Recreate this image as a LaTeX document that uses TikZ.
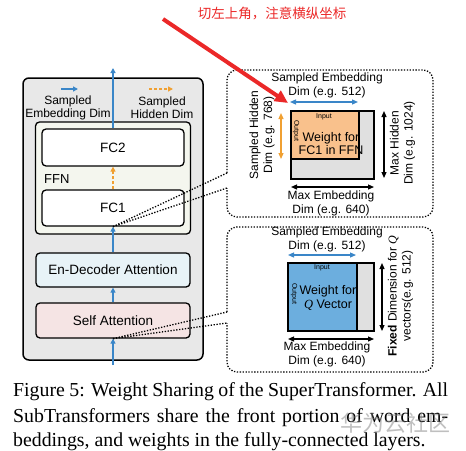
\documentclass[tikz,border=0pt]{standalone}
\usepackage{fontspec}
\setmainfont{Liberation Sans}
\newfontfamily\capfont{Liberation Serif}
\newfontfamily\cjk{Noto Sans CJK SC}
\usetikzlibrary{arrows.meta}
\newcommand\myfs[2]{\fontsize{#1}{#2}\selectfont}
\definecolor{myblue}{RGB}{58,134,200}
\definecolor{myorange}{RGB}{240,160,50}
\definecolor{outergray}{RGB}{232,232,232}
\definecolor{ffnfill}{RGB}{244,246,238}
\definecolor{edfill}{RGB}{232,243,247}
\definecolor{safill}{RGB}{245,228,228}
\definecolor{panelgray}{RGB}{224,224,224}
\definecolor{wforange}{RGB}{249,193,140}
\definecolor{wqblue}{RGB}{108,174,222}
\definecolor{annred}{RGB}{235,40,40}
\tikzset{
 blk/.style={draw=black, line width=1.3pt, rounded corners=4pt, inner sep=0pt},
 uparr/.style={-{Triangle[length=5pt,width=5pt]}, draw=myblue, line width=1.4pt},
 hidarr/.style={-{Triangle[length=5pt,width=5pt]}, draw=myorange, line width=1.4pt, dash pattern=on 3pt off 2pt},
 dots/.style={line width=1.3pt, dash pattern=on 1.3pt off 1.6pt},
 dbl/.style={{Triangle[length=6pt,width=5pt]}-{Triangle[length=6pt,width=5pt]}, line width=1.2pt},
 lbl/.style={align=center, inner sep=0pt, font=\myfs{12}{14}},
 rct/.style={draw=black, line width=1.2pt, inner sep=0pt},
 tiny/.style={inner sep=0pt, font=\myfs{7}{8}},
 capt/.style={anchor=west, inner sep=0pt, font=\capfont\myfs{19.8}{22}},
}
\begin{document}
\begin{tikzpicture}[x=1pt,y=-1pt]
\useasboundingbox (0,0) rectangle (466,450);
% left panel
\node[blk, fill=outergray, minimum width=180pt, minimum height=282pt, rounded corners=6pt, line width=1.5pt] (outer) at (113,219) {};
\node[blk, fill=ffnfill, minimum width=155pt, minimum height=112pt] (ffn) at (113,178) {};
\node[blk, fill=white, minimum width=142pt, minimum height=37pt, font=\myfs{13.5}{14}] (fc2) at (113,147.5) {FC2};
\node[blk, fill=white, minimum width=142pt, minimum height=36pt, font=\myfs{13.5}{14}] (fc1) at (113,208) {FC1};
\node[blk, fill=edfill, minimum width=154pt, minimum height=34pt, font=\myfs{13.5}{14}] (ed) at (113,270) {En-Decoder Attention};
\node[blk, fill=safill, minimum width=154pt, minimum height=35pt, font=\myfs{13.5}{14}] (sa) at (113,320.5) {Self Attention};
\node[anchor=west, inner sep=0pt, font=\myfs{13}{14}] (ffnl) at (44,179) {FFN};
\coordinate (in) at (113,365);
\coordinate (out) at (113,68);
\draw[uparr] (in) -- (sa.south);
\draw[uparr] (sa.north) -- (ed.south);
\draw[uparr] (ed.north) -- (fc1.south);
\draw[hidarr] (fc1.north) -- (fc2.south);
\draw[uparr] (fc2.north) -- (out);
% legend
\coordinate (lb1) at (61,89); \coordinate (lb2) at (78,89);
\coordinate (lo1) at (149,89); \coordinate (lo2) at (173,89);
\draw[uparr] (lb1) -- (lb2);
\draw[hidarr] (lo1) -- (lo2);
\node[lbl, font=\myfs{12}{13}] (legE) at (68,107.5) {Sampled\\Embedding Dim};
\node[lbl, font=\myfs{12}{13}] (legH) at (162,107.5) {Sampled\\Hidden Dim};
% upper panel
\coordinate (p1a) at (227,173); \coordinate (p1b) at (227,188);
\draw[dots, rounded corners=10pt] (p1a) -- (227,70) -- (433,70) -- (433,217) -- (227,217) -- (p1b);
\draw[dots] (fc1.south) -- (p1a);
\draw[dots] (fc1.south) -- (p1b);
\node[lbl] (se1) at (327,85) {Sampled Embedding\\Dim (e.g. 512)};
\coordinate (b1l) at (290,102); \coordinate (b1r) at (358,102);
\draw[dbl, myblue] (b1l) -- (b1r);
\node[rct, fill=panelgray, minimum width=83pt, minimum height=68pt] (g1) at (332.5,145) {};
\node[rct, fill=wforange, minimum width=68pt, minimum height=48pt] (w1) at (325,135) {};
\node[tiny] (in1) at (324,117) {Input};
\node[tiny, rotate=-90] (out1) at (296,131) {Output};
\node[lbl, font=\myfs{12.5}{13}] (wt1) at (331,143.5) {Weight for\\FC1 in FFN};
\coordinate (o1t) at (281,113); \coordinate (o1b) at (281,159);
\draw[dbl, myorange] (o1t) -- (o1b);
\node[lbl, rotate=90] (sh1) at (262,135) {Sampled Hidden\\Dim (e.g. 768)};
\coordinate (k1t) at (384,111); \coordinate (k1b) at (384,178);
\draw[dbl] (k1t) -- (k1b);
\node[lbl, rotate=90] (mh1) at (402.5,143) {Max Hidden\\Dim (e.g. 1024)};
\coordinate (h1l) at (291,187); \coordinate (h1r) at (374,187);
\draw[dbl] (h1l) -- (h1r);
\node[lbl] (me1) at (331,203) {Max Embedding\\Dim (e.g. 640)};
% lower panel
\coordinate (p2a) at (227,312); \coordinate (p2b) at (227,323);
\draw[dots, rounded corners=10pt] (p2a) -- (227,227) -- (433,227) -- (433,372) -- (227,372) -- (p2b);
\draw[dots] (sa.south) -- (p2a);
\draw[dots] (sa.south) -- (p2b);
\node[lbl] (se2) at (327,239) {Sampled Embedding\\Dim (e.g. 512)};
\coordinate (b2l) at (288,255); \coordinate (b2r) at (356,255);
\draw[dbl, myblue] (b2l) -- (b2r);
\node[rct, fill=panelgray, minimum width=86pt, minimum height=68pt] (g2) at (331,297) {};
\node[rct, fill=wqblue, minimum width=69pt, minimum height=68pt] (w2) at (322.5,297) {};
\node[tiny] (in2) at (322,268) {Input};
\node[tiny, rotate=-90] (out2) at (294,294) {Output};
\node[lbl, font=\myfs{12.5}{14}] (wt2) at (328,298) {Weight for\\{\capfont\itshape Q} Vector};
\coordinate (k2t) at (382,263); \coordinate (k2b) at (382,331);
\draw[dbl] (k2t) -- (k2b);
\node[lbl, rotate=90] (fd2) at (400.5,296) {\textbf{Fixed} Dimension for {\capfont\itshape Q}\\vectors(e.g. 512)};
\coordinate (h2l) at (288,339); \coordinate (h2r) at (374,339);
\draw[dbl] (h2l) -- (h2r);
\node[lbl] (me2) at (327,354.5) {Max Embedding\\Dim (e.g. 640)};
% caption
\node[capt] (cap1) at (13,392) {\makebox[435pt][s]{Figure 5: Weight Sharing of the SuperTransformer. All}};
\node[capt] (cap2) at (13,418) {\makebox[435pt][s]{SubTransformers share the front portion of word em-}};
\node[capt] (cap3) at (13,442) {beddings, and weights in the fully-connected layers.};
% watermark
\node[text=gray, opacity=0.5, inner sep=0pt, font=\cjk\myfs{22}{22}] (wm) at (395,423) {华为云社区};
% red annotation
\node[text=annred, inner sep=0pt, font=\cjk\myfs{13.5}{14}] (ann) at (272,13) {切左上角，注意横纵坐标};
\coordinate (rs) at (163,19); \coordinate (re) at (288,103);
\draw[annred, line width=4pt, -{Triangle[length=13pt,width=12pt]}] (rs) -- (re);
\end{tikzpicture}
\end{document}
